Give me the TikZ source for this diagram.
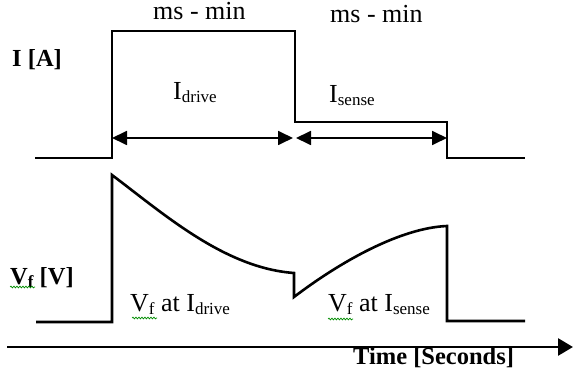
\documentclass[tikz,border=0pt]{standalone}
\usepackage{fontspec}
\setmainfont{Liberation Serif}
\usetikzlibrary{arrows.meta,decorations.pathmorphing}
\newcommand{\mysub}[1]{\raisebox{-3pt}{\fontsize{17}{17}\selectfont #1}}
\begin{document}
\begin{tikzpicture}[x=1pt,y=-1pt,
  wave/.style={line width=2.6pt,line join=miter},
  dimarrow/.style={line width=1.8pt,{Triangle[length=15pt,width=14pt]}-{Triangle[length=15pt,width=14pt]}},
  axisarrow/.style={line width=2.8pt,-{Triangle[length=15pt,width=17pt]}},
  lbl/.style={inner sep=0pt,anchor=base west,font=\fontsize{26}{26}\selectfont},
  blbl/.style={inner sep=0pt,anchor=base west,font=\fontsize{24.5}{24.5}\selectfont\bfseries},
  squig/.style={draw=green!55!black,line width=0.7pt,decorate,decoration={snake,amplitude=0.9pt,segment length=3pt}}]
\useasboundingbox (0,0) rectangle (574,379);
% current waveform
\draw[wave] (35,158) -- (112,158) -- (112,31) -- (295,31) -- (295,122) -- (447,122) -- (447,158) -- (525,158);
% voltage waveform
\draw[wave] (36,322) -- (112,322) -- (112,175)
  .. controls (165,215) and (225,268) .. (294,273) -- (294,297)
  .. controls (340,262) and (400,228) .. (447,226) -- (447,321) -- (525,321);
% dimension arrows
\coordinate (a1) at (112,138);
\coordinate (b1) at (293,138);
\coordinate (a2) at (296,138);
\coordinate (b2) at (447,138);
\draw[dimarrow] (a1) -- (b1);
\draw[dimarrow] (a2) -- (b2);
% time axis
\coordinate (ax0) at (7,347);
\coordinate (ax1) at (573,347);
\draw[axisarrow] (ax0) -- (ax1);
% labels
\node[lbl] (t1) at (153,20) {ms - min};
\node[lbl] (t2) at (330,23) {ms - min};
\node[blbl] (ia) at (12,67) {I [A]};
\node[lbl] (id) at (173,100) {I\mysub{drive}};
\node[lbl] (is) at (329,103) {I\mysub{sense}};
\node[blbl] (vf) at (10,285) {V\mysub{f} [V]};
\node[lbl] (vd) at (130,312) {V\mysub{f} at I\mysub{drive}};
\node[lbl] (vs) at (328,312) {V\mysub{f} at I\mysub{sense}};
\node[blbl] (tm) at (353,365) {Time [Seconds]};
% spell-check squiggles
\draw[squig] (10,287) -- (35,287);
\draw[squig] (132,318) -- (157,318);
\draw[squig] (328,319) -- (353,319);
\end{tikzpicture}
\end{document}
